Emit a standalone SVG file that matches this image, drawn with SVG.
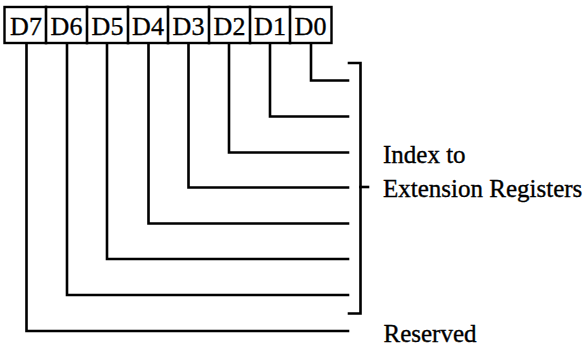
<svg xmlns="http://www.w3.org/2000/svg" width="586" height="346" viewBox="0 0 586 346">
<style>
.ln{fill:none;stroke:#000;stroke-width:2.6;stroke-linejoin:miter;stroke-linecap:square}
.bx{fill:#fff;stroke:#000;stroke-width:2.4}
.t{font-family:"Liberation Serif","Times New Roman",serif;font-size:25px;fill:#000;stroke:#000;stroke-width:0.35}
.d{font-size:26px}
.c{text-anchor:middle}
</style>
<rect width="586" height="346" fill="#fff"/>
<g id="register">
  <rect class="bx" x="4.5" y="7" width="327" height="36"/>
  <g class="ln">
    <line x1="46" y1="7" x2="46" y2="43"/>
    <line x1="87" y1="7" x2="87" y2="43"/>
    <line x1="128" y1="7" x2="128" y2="43"/>
    <line x1="168" y1="7" x2="168" y2="43"/>
    <line x1="209" y1="7" x2="209" y2="43"/>
    <line x1="250" y1="7" x2="250" y2="43"/>
    <line x1="290" y1="7" x2="290" y2="43"/>
  </g>
  <g id="D7"><text class="t d c" x="26" y="34.5">D7</text></g>
  <g id="D6"><text class="t d c" x="66.5" y="34.5">D6</text></g>
  <g id="D5"><text class="t d c" x="107.5" y="34.5">D5</text></g>
  <g id="D4"><text class="t d c" x="148" y="34.5">D4</text></g>
  <g id="D3"><text class="t d c" x="188.5" y="34.5">D3</text></g>
  <g id="D2"><text class="t d c" x="229.5" y="34.5">D2</text></g>
  <g id="D1"><text class="t d c" x="270" y="34.5">D1</text></g>
  <g id="D0"><text class="t d c" x="310.5" y="34.5">D0</text></g>
</g>
<g id="connectors" class="ln">
  <polyline points="311,44 311,80.5 348,80.5"/>
  <polyline points="270,44 270,116.5 348,116.5"/>
  <polyline points="229,44 229,152.5 348,152.5"/>
  <polyline points="188.5,44 188.5,187.5 348,187.5"/>
  <polyline points="148.5,44 148.5,223.5 348,223.5"/>
  <polyline points="107,44 107,259 348,259"/>
  <polyline points="67,44 67,295 348,295"/>
  <polyline points="26.5,44 26.5,331 348,331"/>
  <polyline points="349,63 360.5,63 360.5,313.5 349,313.5"/>
  <line x1="360.5" y1="187" x2="368" y2="187"/>
</g>
<g id="index-label">
  <text class="t" x="383" y="163">Index to</text>
  <text class="t" x="383" y="197">Extension Registers</text>
</g>
<g id="reserved-label">
  <text class="t" x="383.5" y="341.5">Reserved</text>
</g>
</svg>
